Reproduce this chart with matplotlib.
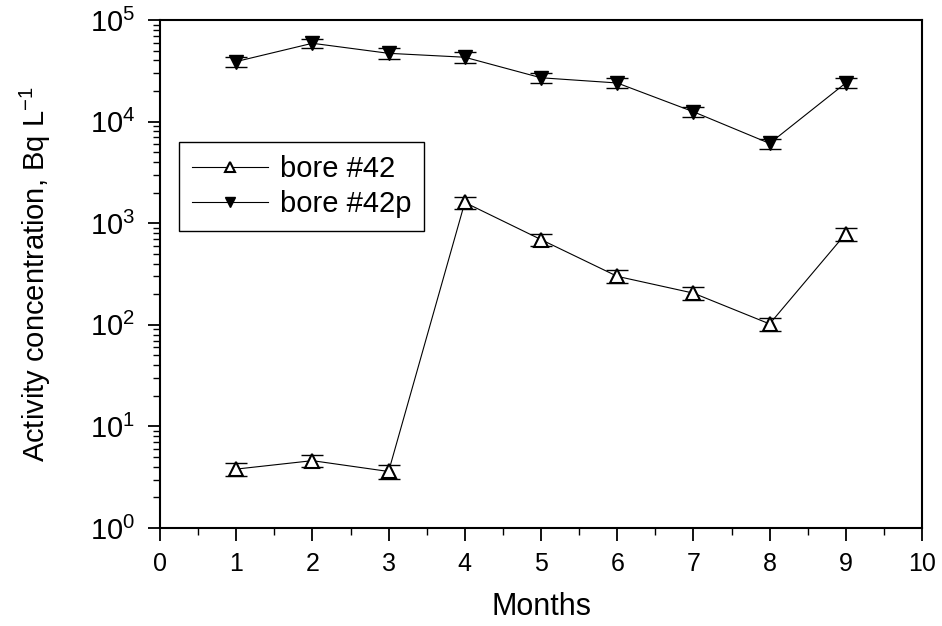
#!/usr/bin/env python3

import matplotlib
matplotlib.use("Agg")
import matplotlib.pyplot as plt
from matplotlib.ticker import LogLocator, MultipleLocator, NullFormatter

plt.rcParams['font.family'] = ['Liberation Sans', 'DejaVu Sans']
plt.rcParams['mathtext.fontset'] = 'custom'
plt.rcParams['mathtext.rm'] = 'Liberation Sans'

# Months and activity values
months = [1, 2, 3, 4, 5, 6, 7, 8, 9]
bore42 = [3.8, 4.6, 3.6, 1600, 690, 300, 205, 102, 790]
bore42_err = [0.55, 0.65, 0.55, 230, 100, 45, 30, 15, 115]
bore42p = [39000, 59000, 47000, 43000, 27000, 24000, 12500, 6100, 24000]
bore42p_err = [4500, 6500, 5500, 5000, 3000, 2800, 1500, 700, 2800]

fig = plt.figure(figsize=(9.42, 6.26), dpi=100)
ax = fig.add_axes([160 / 942, 98 / 626, 762 / 942, 508 / 626])

# error bars first, then the lines with markers on top
ax.errorbar(months, bore42, yerr=bore42_err, fmt='none', ecolor='black',
            elinewidth=0.9, capsize=8, capthick=1.0, zorder=2)
ax.errorbar(months, bore42p, yerr=bore42p_err, fmt='none', ecolor='black',
            elinewidth=0.9, capsize=8, capthick=1.0, zorder=2)
ax.plot(months, bore42, color='black', lw=0.8, marker='^', ms=10,
        mfc='white', mec='black', mew=1.5, label='bore #42', zorder=3)
ax.plot(months, bore42p, color='black', lw=0.8, marker='v', ms=10,
        mfc='black', mec='black', label='bore #42p', zorder=3)

ax.set_yscale('log')
ax.set_xlim(0, 10)
ax.set_ylim(1, 1e5)
ax.xaxis.set_major_locator(MultipleLocator(1))
ax.xaxis.set_minor_locator(MultipleLocator(0.5))
ax.yaxis.set_major_locator(LogLocator(base=10, numticks=10))
ax.yaxis.set_minor_locator(LogLocator(base=10, subs=range(2, 10), numticks=10))
ax.yaxis.set_minor_formatter(NullFormatter())

ax.tick_params(which='major', direction='out', length=9, width=1.3, colors='black')
ax.tick_params(which='minor', direction='out', length=5, width=1.0)
ax.tick_params(axis='x', which='major', labelsize=18, pad=8)
ax.tick_params(axis='y', which='major', labelsize=21, pad=9)
for spine in ax.spines.values():
    spine.set_linewidth(1.5)

ax.set_xlabel('Months', fontsize=22, labelpad=12)
ax.set_ylabel('Activity concentration, Bq L$^{\\mathregular{-1}}$', fontsize=21, labelpad=26)

leg = ax.legend(loc='upper left', bbox_to_anchor=(0.025, 0.76), borderaxespad=0,
                fontsize=21, frameon=True, fancybox=False, edgecolor='black',
                framealpha=1, numpoints=1, markerscale=0.65, handlelength=2.6,
                handletextpad=0.4, borderpad=0.45, labelspacing=0.25)
leg.get_frame().set_linewidth(1.0)

plt.savefig('out.png', dpi=100)
